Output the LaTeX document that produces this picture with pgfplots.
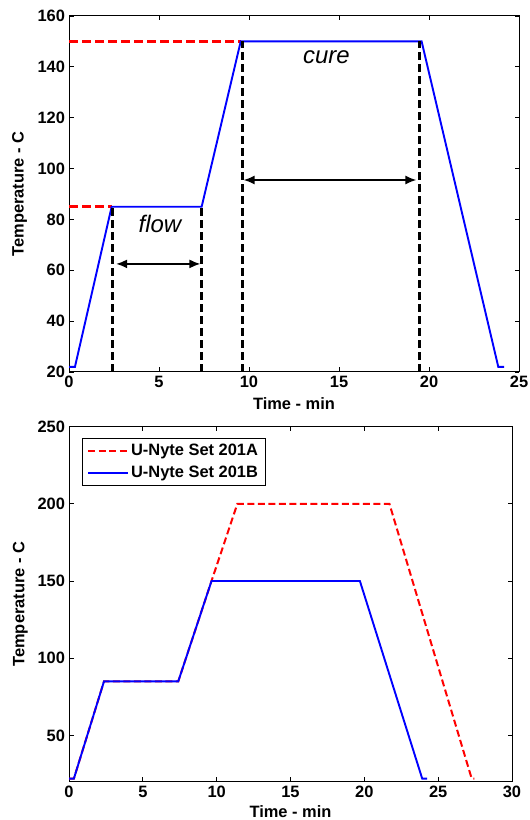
\documentclass[border=0pt]{standalone}
\usepackage{fontspec}
\setmainfont{Liberation Sans}
\usepackage{pgfplots}
\pgfplotsset{compat=1.18}
\usetikzlibrary{arrows.meta}
\definecolor{mblue}{RGB}{0,0,255}
\definecolor{mred}{RGB}{255,0,0}
\newcommand{\tf}{\fontsize{16.5}{19}\selectfont\bfseries}
\pgfplotsset{
  mystyle/.style={
    scale only axis,
    anchor=south west,
    axis line style={line width=1bp},
    tick style={line width=0.8bp, black},
    major tick length=4.5bp,
    tick align=inside,
    /pgf/number format/assume math mode=true,
    tick label style={font=\tf},
    label style={font=\tf},
    xlabel={Time - min},
    ylabel={Temperature - C},
    ylabel style={at={(axis description cs:-0.11,0.5)}, anchor=center},
    xticklabel style={yshift=-0.5bp},
    yticklabel style={xshift=-0.5bp},
    clip=false,
  }
}
\begin{document}
\begin{tikzpicture}
\path[use as bounding box] (0,0) rectangle (530bp,820bp);
% ---------- top axis ----------
\begin{axis}[mystyle,
  at={(69bp,448bp)}, width=450bp, height=356bp,
  xmin=0, xmax=25, ymin=20, ymax=160,
  xtick={0,5,10,15,20,25}, ytick={20,40,60,80,100,120,140,160},
  xlabel style={at={(axis description cs:0.5,-0.088)}, anchor=center},
]
\addplot[mred, line width=2.5bp, dash pattern=on 9bp off 4bp] coordinates {(0,150) (9.54,150)};
\addplot[mred, line width=2.5bp, dash pattern=on 9bp off 4bp] coordinates {(0,85) (2.37,85)};
\addplot[mblue, line width=1.9bp] coordinates {
 (0,22) (0.33,22) (2.37,85) (7.37,85) (9.54,150) (19.59,150) (23.85,22) (24.17,22)};
\addplot[black, line width=2.5bp, dash pattern=on 8bp off 4bp] coordinates {(2.43,20) (2.43,85)};
\addplot[black, line width=2.5bp, dash pattern=on 8bp off 4bp] coordinates {(7.37,20) (7.37,85)};
\addplot[black, line width=2.5bp, dash pattern=on 8bp off 4bp] coordinates {(9.63,20) (9.63,150)};
\addplot[black, line width=2.5bp, dash pattern=on 8bp off 4bp] coordinates {(19.46,20) (19.46,150)};
\addplot[black, line width=1.6bp, {Latex[length=11bp,width=9bp]}-{Latex[length=11bp,width=9bp]}] coordinates {(2.62,62.5) (7.3,62.5)};
\addplot[black, line width=1.6bp, {Latex[length=11bp,width=9bp]}-{Latex[length=11bp,width=9bp]}] coordinates {(9.7,95.5) (19.3,95.5)};
\node[font=\fontsize{24}{28}\selectfont\itshape] at (axis cs:5.05,78.2) {flow};
\node[font=\fontsize{24}{28}\selectfont\itshape] at (axis cs:14.3,143.9) {cure};
\end{axis}
% ---------- bottom axis ----------
\begin{axis}[mystyle,
  at={(69bp,38.3bp)}, width=443bp, height=355bp,
  xmin=0, xmax=30, ymin=20, ymax=250,
  xtick={0,5,10,15,20,25,30}, ytick={50,100,150,200,250},
  xlabel style={at={(axis description cs:0.5,-0.083)}, anchor=center},
  legend style={at={(rel axis cs:0.029,0.968)}, anchor=north west,
    draw=black, font=\tf, inner xsep=5bp, inner ysep=4bp,
    row sep=5bp},
  legend cell align=left,
  legend image code/.code={\draw[#1] (0bp,0bp) -- (40bp,0bp);},
]
\addplot[mred, line width=2bp, dash pattern=on 7bp off 3.5bp] coordinates {
 (0,22) (0.33,22) (2.37,85) (7.4,85) (9.65,150) (11.4,200) (21.7,200) (27.27,22) (27.45,22)};
\addlegendentry{U-Nyte Set 201A}
\addplot[mblue, line width=1.9bp] coordinates {
 (0,22) (0.33,22) (2.37,85) (7.4,85) (9.65,150) (19.7,150) (23.92,22) (24.26,22)};
\addlegendentry{U-Nyte Set 201B}
\end{axis}
\end{tikzpicture}
\end{document}
